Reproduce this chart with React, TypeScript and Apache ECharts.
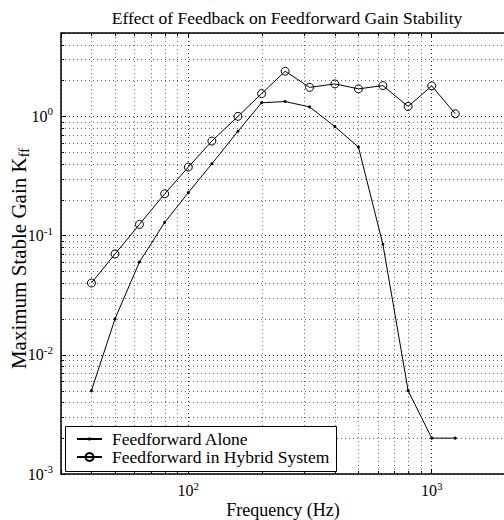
import React, { useEffect, useRef } from "react";
import * as echarts from "echarts";

const FONT = "'Liberation Serif', 'Times New Roman', serif";

// Data (1/3-octave centre frequencies)
const frequencies = [40, 50, 63, 80, 100, 125, 160, 200, 250, 315, 400, 500, 630, 800, 1000, 1250];
const feedforwardAlone = [0.005, 0.02, 0.06, 0.129, 0.229, 0.4, 0.75, 1.3, 1.33, 1.2, 0.82, 0.552, 0.0845, 0.005, 0.002, 0.002];
const feedforwardHybrid = [0.04, 0.07, 0.124, 0.224, 0.375, 0.62, 1.0, 1.55, 2.39, 1.75, 1.87, 1.7, 1.81, 1.21, 1.8, 1.05];

const seriesNames = ["Feedforward Alone", "Feedforward in Hybrid System"];

const X_MIN = 30;
const X_MAX = 2000;
const Y_MIN = 0.001;
const Y_MAX = 5;
const xMinorTicks = [40, 50, 60, 70, 80, 90, 200, 300, 400, 500, 600, 700, 800, 900];
const yMinorTicks = [
  0.002, 0.003, 0.004, 0.005, 0.006, 0.007, 0.008, 0.009,
  0.02, 0.03, 0.04, 0.05, 0.06, 0.07, 0.08, 0.09,
  0.2, 0.3, 0.4, 0.5, 0.6, 0.7, 0.8, 0.9,
  2, 3, 4,
];

const powLabel = (v: number) => {
  const e = Math.log10(v);
  const r = Math.round(e);
  if (Math.abs(e - r) > 1e-6) return "";
  return `{b|10}{s|${r}}`;
};

const labelRich = {
  b: { fontFamily: FONT, fontSize: 16, color: "#000" },
  s: { fontFamily: FONT, fontSize: 11, color: "#000", padding: [0, 0, 10, 0] },
};

const GRID_COLOR = "#666";

export default function App() {
  const ref = useRef<HTMLDivElement>(null);

  useEffect(() => {
    if (!ref.current) return;
    const chart = echarts.init(ref.current, undefined, { renderer: "svg" });

    const option: any = {
      animation: false,
      backgroundColor: "#fff",
      textStyle: { fontFamily: FONT },
      title: {
        text: "Effect of Feedback on Feedforward Gain Stability",
        left: 282,
        top: 4,
        textAlign: "center",
        textStyle: { fontFamily: FONT, fontSize: 17.5, fontWeight: "normal", color: "#000" },
      },
      grid: { left: 61, top: 33, width: 444, height: 441, show: false, containLabel: false, outerBoundsMode: "none" },
      xAxis: [
        {
          type: "log",
          logBase: 10,
          min: X_MIN,
          max: X_MAX,
          position: "bottom",
          name: "Frequency (Hz)",
          nameLocation: "middle",
          nameGap: 27,
          nameMoveOverlap: false,
          nameTextStyle: { fontFamily: FONT, fontSize: 18, color: "#000" },
          axisLine: { show: true, onZero: false, lineStyle: { color: "#000", width: 1.5 } },
          axisTick: { show: true, inside: true, length: 5, lineStyle: { color: "#000" } },
          axisLabel: { formatter: powLabel, rich: labelRich, margin: 6 },
          splitLine: { show: true, lineStyle: { color: "#222", type: [1, 3], width: 1 } },
          minorTick: { show: false },
        },
        {
          type: "log",
          logBase: 10,
          min: X_MIN,
          max: X_MAX,
          position: "top",
          axisLine: { show: true, onZero: false, lineStyle: { color: "#000", width: 1.5 } },
          axisTick: { show: true, inside: true, length: 5, lineStyle: { color: "#000" } },
          axisLabel: { show: false },
          splitLine: { show: false },
        },
      ],
      yAxis: [
        {
          type: "log",
          logBase: 10,
          min: Y_MIN,
          max: Y_MAX,
          position: "left",
          name: "{n|Maximum Stable Gain K}{sub|ff}",
          nameLocation: "middle",
          nameGap: 30,
          nameMoveOverlap: false,
          nameRotate: 90,
          nameTextStyle: {
            rich: {
              n: { fontFamily: FONT, fontSize: 21, color: "#000" },
              sub: { fontFamily: FONT, fontSize: 14.5, color: "#000", padding: [9, 10, 0, 0] },
            },
          },
          axisLine: { show: true, onZero: false, lineStyle: { color: "#000", width: 1.5 } },
          axisTick: { show: true, inside: true, length: 5, lineStyle: { color: "#000" } },
          axisLabel: { formatter: powLabel, rich: labelRich, margin: 8 },
          splitLine: { show: true, lineStyle: { color: "#222", type: [1, 3], width: 1 } },
        },
      ],
      legend: [
        {
          data: [seriesNames[0]],
          left: 76,
          top: 430,
          padding: 0,
          itemWidth: 25,
          itemHeight: 4,
          z: 12,
          textStyle: { fontFamily: FONT, fontSize: 17.5, color: "#000", padding: [0, 0, 0, 5] },
        },
        {
          data: [seriesNames[1]],
          left: 76,
          top: 448,
          padding: 0,
          itemWidth: 25,
          itemHeight: 10,
          z: 12,
          textStyle: { fontFamily: FONT, fontSize: 17.5, color: "#000", padding: [0, 0, 0, 5] },
        },
      ],
      graphic: [
        {
          type: "rect",
          z: 10,
          shape: { x: 65.5, y: 426.5, width: 271, height: 45 },
          style: { fill: "#fff", stroke: "#000", lineWidth: 1 },
        },
      ],
      series: [
        {
          type: "custom",
          name: "xminor",
          silent: true,
          z: 1,
          data: xMinorTicks.map((v) => [v, Y_MIN]),
          renderItem: (_p: any, api: any) => {
            const v = api.value(0);
            const b = api.coord([v, Y_MIN]);
            const t = api.coord([v, Y_MAX]);
            const x = Math.round(b[0]) + 0.5;
            return {
              type: "group",
              children: [
                { type: "line", shape: { x1: x, y1: t[1], x2: x, y2: b[1] }, style: { stroke: GRID_COLOR, lineWidth: 1, lineDash: [1, 3] } },
                { type: "line", shape: { x1: x, y1: b[1], x2: x, y2: b[1] - 3 }, style: { stroke: "#000", lineWidth: 1 } },
                { type: "line", shape: { x1: x, y1: t[1], x2: x, y2: t[1] + 3 }, style: { stroke: "#000", lineWidth: 1 } },
              ],
            };
          },
        },
        {
          type: "custom",
          name: "yminor",
          silent: true,
          z: 1,
          data: yMinorTicks.map((v) => [X_MIN, v]),
          renderItem: (_p: any, api: any) => {
            const v = api.value(1);
            const l = api.coord([X_MIN, v]);
            const r = api.coord([X_MAX, v]);
            const y = Math.round(l[1]) + 0.5;
            return {
              type: "group",
              children: [
                { type: "line", shape: { x1: l[0], y1: y, x2: r[0], y2: y }, style: { stroke: GRID_COLOR, lineWidth: 1, lineDash: [1, 3] } },
                { type: "line", shape: { x1: l[0], y1: y, x2: l[0] + 3, y2: y }, style: { stroke: "#000", lineWidth: 1 } },
              ],
            };
          },
        },
        {
          type: "line",
          name: seriesNames[0],
          z: 3,
          data: frequencies.map((f, i) => [f, feedforwardAlone[i]]),
          symbol: "circle",
          symbolSize: 3,
          showAllSymbol: true,
          lineStyle: { color: "#000", width: 1 },
          itemStyle: { color: "#000" },
        },
        {
          type: "line",
          name: seriesNames[1],
          z: 3,
          data: frequencies.map((f, i) => [f, feedforwardHybrid[i]]),
          symbol: "circle",
          symbolSize: 8,
          showAllSymbol: true,
          lineStyle: { color: "#000", width: 1 },
          itemStyle: { color: "transparent", borderColor: "#000", borderWidth: 1 },
        },
      ],
    };

    chart.setOption(option);
    return () => chart.dispose();
  }, []);

  return (
    <div
      ref={ref}
      style={{ position: "fixed", left: 0, top: 0, width: 504, height: 520 }}
    />
  );
}
